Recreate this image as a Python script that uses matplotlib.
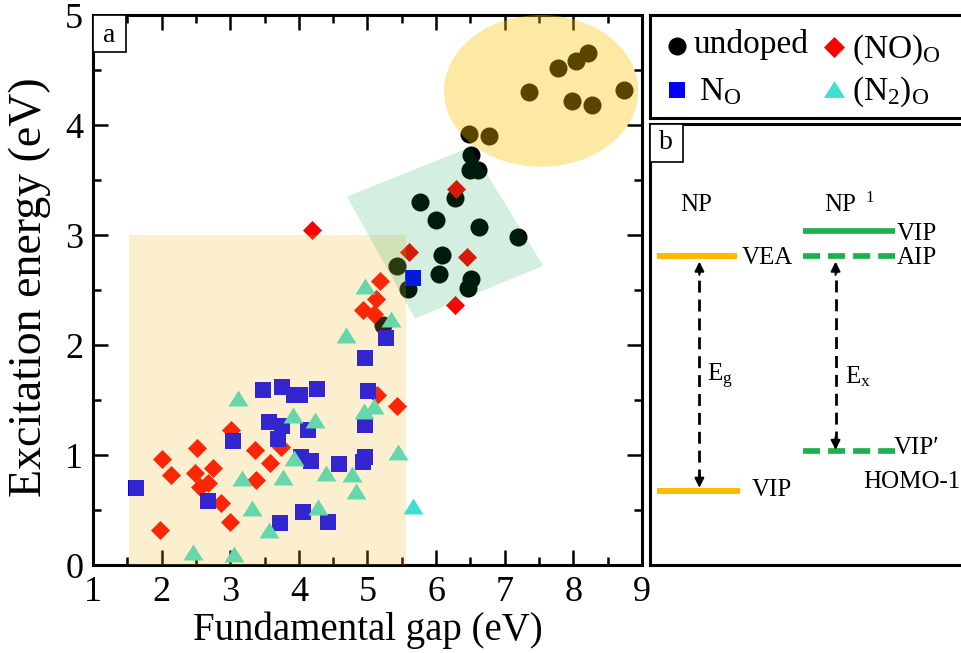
import matplotlib.pyplot as plt
from matplotlib.patches import Rectangle, Ellipse, Polygon
from matplotlib.ticker import MultipleLocator

plt.rcParams['font.family'] = ['Liberation Serif', 'DejaVu Serif']
plt.rcParams['mathtext.fontset'] = 'custom'
plt.rcParams['mathtext.rm'] = 'Liberation Serif'
plt.rcParams['mathtext.it'] = 'Liberation Serif:italic'

# panel a data (fundamental gap, excitation energy)
undoped_x = [6.51, 6.50, 6.61, 5.76, 6.27, 6.00, 6.62, 7.19, 6.09, 6.04, 6.51, 6.47, 5.43, 5.59, 5.23,
             8.21, 8.04, 7.78, 7.35, 7.98, 8.27, 8.74, 6.48, 6.77]
undoped_y = [3.73, 3.59, 3.59, 3.30, 3.34, 3.14, 3.07, 2.98, 2.82, 2.65, 2.60, 2.52, 2.72, 2.51, 2.18,
             4.65, 4.58, 4.52, 4.30, 4.22, 4.18, 4.32, 3.92, 3.90]

no_x = [2.01, 2.13, 2.52, 2.49, 2.75, 2.56, 2.68, 2.87, 3.00, 1.97, 3.01, 3.36, 3.74, 3.58, 3.38,
        5.14, 5.43, 4.19, 6.29, 5.60, 6.45, 6.28, 5.18, 5.13, 4.94, 5.09]
no_y = [0.96, 0.82, 1.06, 0.84, 0.88, 0.71, 0.75, 0.56, 0.39, 0.32, 1.23, 1.05, 1.07, 0.93, 0.77,
        1.55, 1.45, 3.05, 3.42, 2.85, 2.80, 2.36, 2.58, 2.42, 2.32, 2.28]

n_x = [1.62, 3.04, 2.68, 5.27, 4.96, 3.47, 3.76, 3.93, 4.02, 4.26, 5.01, 3.56, 3.76, 3.69, 4.13,
       4.96, 4.03, 4.18, 4.59, 4.97, 4.93, 4.06, 3.72, 4.42, 5.67]
n_y = [0.70, 1.13, 0.58, 2.06, 1.88, 1.59, 1.62, 1.55, 1.55, 1.60, 1.58, 1.30, 1.26, 1.15, 1.23,
       1.27, 0.98, 0.95, 0.92, 0.98, 0.94, 0.48, 0.38, 0.39, 2.61]

n2_x = [3.12, 3.17, 2.45, 3.05, 3.31, 4.69, 3.91, 4.24, 4.95, 5.10, 5.45, 3.93, 3.77, 4.40, 4.78,
        4.83, 4.28, 3.56, 5.67, 4.97, 5.34]
n2_y = [1.52, 0.79, 0.12, 0.10, 0.52, 2.09, 1.36, 1.32, 1.40, 1.45, 1.03, 0.97, 0.80, 0.84, 0.83,
        0.67, 0.53, 0.32, 0.54, 2.54, 2.24]

# highlighted regions
rect_region = (1.53, 0.0, 4.03, 3.0)
ellipse_region = (7.53, 4.31, 2.83, 1.38)
tilted_region = [(4.70, 3.35), (6.50, 3.80), (7.56, 2.72), (5.69, 2.24)]

# panel b schematic levels (panel fractions)
np_levels = {'VEA': 0.701, 'VIP': 0.168}
npc_levels = {'VIP': 0.757, 'AIP': 0.701, "VIP\u2032": 0.2585}

tri = [(-1, -0.8), (1, -0.8), (0, 0.8)]

fig = plt.figure(figsize=(9.62, 6.53), dpi=100)

ax = fig.add_axes([93 / 962, 88 / 653, 549 / 962, 550 / 653])
ax.scatter(undoped_x, undoped_y, s=169, marker='o', color='black', linewidths=0, zorder=2)
ax.scatter(no_x, no_y, s=94, marker='D', color='#ff0000', linewidths=0, zorder=2)
ax.scatter(n_x, n_y, s=117, marker='s', color='#0000ff', linewidths=0, zorder=2)
ax.scatter(n2_x, n2_y, s=207, marker=tri, color='#40e0d0', linewidths=0, zorder=2)

ax.add_patch(Rectangle(rect_region[:2], rect_region[2], rect_region[3],
                       facecolor='#F3B71F', alpha=0.21, lw=0, zorder=3))
ax.add_patch(Ellipse(ellipse_region[:2], ellipse_region[2], ellipse_region[3],
                     facecolor='#FAC200', alpha=0.36, lw=0, zorder=3))
ax.add_patch(Polygon(tilted_region, closed=True, facecolor='#00A54C', alpha=0.17, lw=0, zorder=3))

ax.set_xlim(1, 9)
ax.set_ylim(0, 5)
ax.xaxis.set_major_locator(MultipleLocator(1))
ax.xaxis.set_minor_locator(MultipleLocator(0.5))
ax.yaxis.set_major_locator(MultipleLocator(1))
ax.yaxis.set_minor_locator(MultipleLocator(0.5))
ax.tick_params(which='both', direction='in', top=True, right=True, width=1.8)
ax.tick_params(which='major', length=11, labelsize=26)
ax.tick_params(which='minor', length=5.5)
ax.tick_params(axis='x', pad=8)
ax.tick_params(axis='y', pad=7)
for s in ax.spines.values():
    s.set_linewidth(2.2)
ax.set_xlabel('Fundamental gap (eV)', fontsize=28, labelpad=2)
ax.set_ylabel('Excitation energy (eV)', fontsize=33)
ax.yaxis.set_label_coords(-0.077, 0.505)

ax.add_patch(Rectangle((0, 1 - 0.067), 0.060, 0.067, transform=ax.transAxes,
                       facecolor='white', edgecolor='black', lw=1.2, zorder=5))
ax.text(0.03, 0.962, 'a', transform=ax.transAxes, ha='center', va='center', fontsize=20, zorder=6)

# legend panel
lax = fig.add_axes([650 / 962, (653 - 118) / 653, 325 / 962, 103 / 653])
lax.set_xlim(0, 1)
lax.set_ylim(0, 1)
lax.set_xticks([])
lax.set_yticks([])
for s in lax.spines.values():
    s.set_linewidth(2.2)
lax.scatter([0.083], [0.70], s=169, marker='o', color='black', linewidths=0)
lax.scatter([0.567], [0.69], s=115, marker='D', color='#ff0000', linewidths=0)
lax.scatter([0.084], [0.27], s=144, marker='s', color='#0000ff', linewidths=0)
lax.scatter([0.567], [0.28], s=230, marker=tri, color='#40e0d0', linewidths=0)
lax.text(0.135, 0.63, 'undoped', fontsize=24, va='baseline')
lax.text(0.622, 0.58, r'(NO)$_\mathrm{O}$', fontsize=24, va='baseline')
lax.text(0.150, 0.175, r'N$_\mathrm{O}$', fontsize=24, va='baseline')
lax.text(0.622, 0.175, r'(N$_2$)$_\mathrm{O}$', fontsize=24, va='baseline')

# panel b
bax = fig.add_axes([650 / 962, 88 / 653, 325 / 962, 441 / 653])
bax.set_xlim(0, 1)
bax.set_ylim(0, 1)
bax.set_xticks([])
bax.set_yticks([])
for s in bax.spines.values():
    s.set_linewidth(2.2)
bax.add_patch(Rectangle((0, 0.914), 0.1015, 0.086, facecolor='white', edgecolor='black', lw=1.2, zorder=5))
bax.text(0.05, 0.957, 'b', ha='center', va='center', fontsize=20, zorder=6)

orange = '#FFBA00'
green = '#1EB04F'
bax.plot([0.021, 0.267], [np_levels['VEA']] * 2, color=orange, lw=4.3, solid_capstyle='butt')
bax.plot([0.021, 0.277], [np_levels['VIP']] * 2, color=orange, lw=4.3, solid_capstyle='butt')
bax.plot([0.472, 0.754], [npc_levels['VIP']] * 2, color=green, lw=4.1, solid_capstyle='butt')
bax.plot([0.472, 0.754], [npc_levels['AIP']] * 2, color=green, lw=4.1, dashes=(3, 1.4), dash_capstyle='butt')
bax.plot([0.472, 0.754], [npc_levels["VIP\u2032"]] * 2, color=green, lw=4.1, dashes=(3, 1.4), dash_capstyle='butt')

fs_b = 18
bax.text(0.141, 0.816, 'NP', fontsize=fs_b, ha='center', va='center')
bax.text(0.585, 0.816, 'NP', fontsize=fs_b, ha='center', va='center')
bax.text(0.677, 0.832, '1', fontsize=12, ha='center', va='center')
bax.text(0.282, 0.697, 'VEA', fontsize=fs_b, va='center')
bax.text(0.313, 0.170, 'VIP', fontsize=fs_b, va='center')
bax.text(0.759, 0.750, 'VIP', fontsize=fs_b, va='center')
bax.text(0.759, 0.696, 'AIP', fontsize=fs_b, va='center')
bax.text(0.751, 0.265, 'VIP\u2032', fontsize=fs_b, va='center')
bax.text(0.657, 0.189, 'HOMO-1', fontsize=fs_b, va='center')
bax.text(0.174, 0.427, r'E$_\mathrm{g}$', fontsize=fs_b, va='center')
bax.text(0.600, 0.427, r'E$_\mathrm{x}$', fontsize=fs_b, va='center')

# dashed double arrows
for xa, top, bot in [(0.152, 0.688, 0.175), (0.571, 0.688, 0.261)]:
    bax.plot([xa, xa], [bot + 0.015, top - 0.015], color='black', lw=2, dashes=(4.3, 2.5))
    bax.annotate('', xy=(xa, top), xytext=(xa, top - 0.03),
                 arrowprops=dict(arrowstyle='-|>', color='black', lw=1.5, mutation_scale=14,
                                 shrinkA=0, shrinkB=0))
    bax.annotate('', xy=(xa, bot), xytext=(xa, bot + 0.03),
                 arrowprops=dict(arrowstyle='-|>', color='black', lw=1.5, mutation_scale=14,
                                 shrinkA=0, shrinkB=0))

fig.savefig('out.png', dpi=100)
